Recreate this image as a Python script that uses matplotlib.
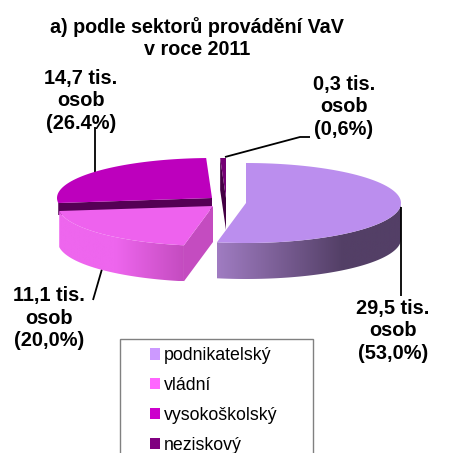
import numpy as np
import matplotlib
matplotlib.use('Agg')
import matplotlib.pyplot as plt
from matplotlib.colors import LinearSegmentedColormap
from matplotlib.patches import Patch, Polygon, Rectangle

plt.rcParams['font.family'] = ['Liberation Sans', 'DejaVu Sans']

# Data
sectors = ['podnikatelský', 'vládní', 'vysokoškolský', 'neziskový']
shares = [53.0, 20.0, 26.4, 0.6]
slice_labels = ['29,5 tis.\nosob\n(53,0%)', '11,1 tis.\nosob\n(20,0%)',
                '14,7 tis.\nosob\n(26.4%)', '0,3 tis.\nosob\n(0,6%)']
title = 'a) podle sektorů provádění VaV\nv roce 2011'

legend_colors = ['#cc99ff', '#ff66ff', '#cc00cc', '#800080']
top_colors = ['#bb8eee', '#ee62ee', '#bd00bd', '#750075']
inner_colors = ['#9b78bc', '#c44cc0', '#550055', '#440044']
wall_ramps = [[(0, '#a07cc2'), (0.68, '#533f66'), (1, '#533f66')],
              [(0, '#ee66ee'), (0.45, '#ee66ee'), (1, '#c44cc0')]]

# Layout in pixels
centers = [(246, 203), (213, 206), (212, 198), (226, 198)]
rx, ry = 155, 40
depth = 36
draw_order = [2, 3, 1, 0]
# which cut faces show: start edge, end edge
show_start = [False, True, True, True]
show_end = [False, False, False, True]
inner_depth = [0, 36, 12, 32]

fig = plt.figure(figsize=(4.59, 4.53), dpi=100)
ax = fig.add_axes([0, 0, 1, 1])


def rim(center, a1, a2, n=80):
    t = np.radians(np.linspace(a1, a2, n))
    return np.column_stack([center[0] + rx*np.cos(t), center[1] - ry*np.sin(t)])


def gradient_fill(pts, ramp, zorder):
    # horizontal colour ramp clipped to a polygon
    cmap = LinearSegmentedColormap.from_list('side', ramp)
    poly = Polygon(pts, closed=True, facecolor='none', edgecolor='none', transform=ax.transData)
    ax.add_patch(poly)
    x0, x1 = pts[:, 0].min(), pts[:, 0].max()
    y0, y1 = pts[:, 1].min(), pts[:, 1].max()
    im = ax.imshow(np.linspace(0, 1, 256).reshape(1, -1), cmap=cmap, aspect='auto',
                   extent=(x0, x1, y1, y0), zorder=zorder)
    im.set_clip_path(poly)


# Slices run clockwise from the top
ends = 90 - np.cumsum(shares) * 3.6
starts = np.concatenate([[90], ends[:-1]])

for z, i in enumerate(draw_order):
    c = centers[i]
    a1, a2 = starts[i], ends[i]
    base = 10 + z*3
    d = inner_depth[i]

    # inner cut faces
    for angle, show in ((a1, show_start[i]), (a2, show_end[i])):
        if show:
            edge = rim(c, angle, angle, 1)[0]
            inner = np.array([c, edge, edge + [0, d], [c[0], c[1] + d]])
            ax.add_patch(Polygon(inner, closed=True, facecolor=inner_colors[i], edgecolor='none', zorder=base))

    # outer wall, only the front half shows
    if i < 2:
        arc = rim(c, min(a1, 0), max(a2, -180))
        wall = np.vstack([arc, (arc + [0, depth])[::-1]])
        gradient_fill(wall, wall_ramps[i], base + 1)

    # top face
    top = np.vstack([[c], rim(c, a1, a2)])
    ax.add_patch(Polygon(top, closed=True, facecolor=top_colors[i], edgecolor='none', zorder=base + 2))

# Leader lines
ax.plot([401, 401], [207, 296], color='black', lw=1.3, zorder=30, solid_capstyle='butt')
ax.plot([102, 93], [269, 300], color='black', lw=1.3, zorder=5, solid_capstyle='butt')
ax.plot([95, 95], [127, 173], color='black', lw=1.3, zorder=5, solid_capstyle='butt')
ax.plot([225, 300, 310], [157, 137, 137], color='black', lw=1.3, zorder=30, solid_capstyle='butt')

# Labels
ax.text(197, 38, title, ha='center', va='center', fontsize=14.2, fontweight='bold', linespacing=1.25)
label_pos = [(393, 331), (49, 318), (81, 101), (344, 107)]
for pos, txt in zip(label_pos, slice_labels):
    ax.text(pos[0], pos[1], txt, ha='center', va='center', fontsize=14.4, fontweight='bold', linespacing=1.22)

# Legend box runs past the lower edge of the picture
ax.add_patch(Rectangle((120, 339), 193, 130, facecolor='white', edgecolor='#808080', lw=1, zorder=1))
handles = [Patch(facecolor=col, edgecolor='none', label=name) for col, name in zip(legend_colors, sectors)]
ax.legend(handles=handles, loc='upper left', bbox_to_anchor=(132, 329.5), bbox_transform=ax.transData,
          frameon=False, fontsize=12.8, handlelength=0.6, handleheight=0.6, handletextpad=0.18,
          labelspacing=0.72, borderpad=0.5)

ax.set_xlim(0, 459)
ax.set_ylim(453, 0)
ax.axis('off')

plt.savefig('out.png', dpi=100)
